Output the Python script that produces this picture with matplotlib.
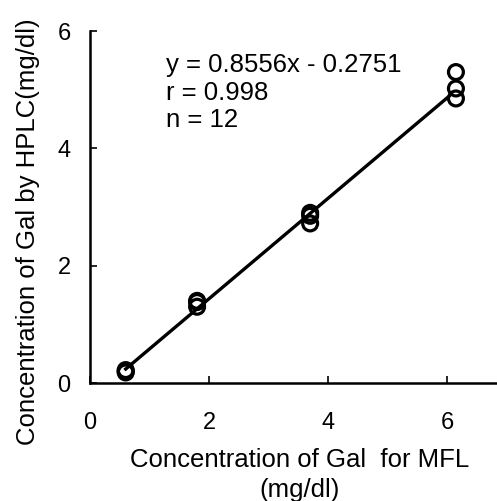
import matplotlib
matplotlib.use("Agg")
import matplotlib.pyplot as plt
import numpy as np

plt.rcParams['font.family'] = ['Liberation Sans', 'DejaVu Sans']

# Data
x_mfl = [0.6, 0.6, 0.6, 1.8, 1.8, 1.8, 3.7, 3.7, 3.7, 6.15, 6.15, 6.15]
y_hplc = [0.18, 0.2, 0.22, 1.3, 1.38, 1.4, 2.72, 2.85, 2.9, 4.85, 5.02, 5.3]
slope = 0.8556
intercept = -0.2751
r_value = 0.998
x_ticks = [0, 2, 4, 6]
y_ticks = [0, 2, 4, 6]

W, H = 497, 501
fig = plt.figure(figsize=(W / 100, H / 100), dpi=100)
ax = fig.add_axes([90 / W, 1 - 383 / H, (W - 90) / W, (383 - 31) / H])

ax.scatter(x_mfl, y_hplc, s=115, facecolors='none', edgecolors='black',
           linewidths=2.3, zorder=3)
xl = np.array([min(x_mfl), max(x_mfl) - 0.12])
ax.plot(xl, slope * xl + intercept, color='black', lw=2.4, zorder=2)

ax.set_xlim(0, (W - 90) / 59.5)
ax.set_ylim(0, 6)
ax.set_xticks(x_ticks)
ax.set_yticks(y_ticks)
ax.tick_params(axis='both', direction='in', length=5, width=1.2,
               labelsize=17)
ax.tick_params(axis='x', pad=21)
ax.tick_params(axis='y', pad=14)

for s in ['top', 'right']:
    ax.spines[s].set_visible(False)
for s in ['left', 'bottom']:
    ax.spines[s].set_linewidth(1.8)

ann = [f"y = {slope}x - {abs(intercept)}", f"r = {r_value}", f"n = {len(x_mfl)}"]
for i, t in enumerate(ann):
    fig.text(166 / W, 1 - (65 + 27.5 * i) / H, t, fontsize=18.5,
             ha='left', va='center')

fig.text(300 / W, 1 - 460 / H, "Concentration of Gal  for MFL",
         fontsize=18.5, ha='center', va='center')
fig.text(300 / W, 1 - 490 / H, "(mg/dl)", fontsize=18.5, ha='center', va='center')
fig.text(28 / W, 1 - 232 / H, "Concentration of Gal by HPLC(mg/dl)",
         fontsize=18.5, ha='center', va='center', rotation=90)

fig.savefig("out.png", dpi=100)
